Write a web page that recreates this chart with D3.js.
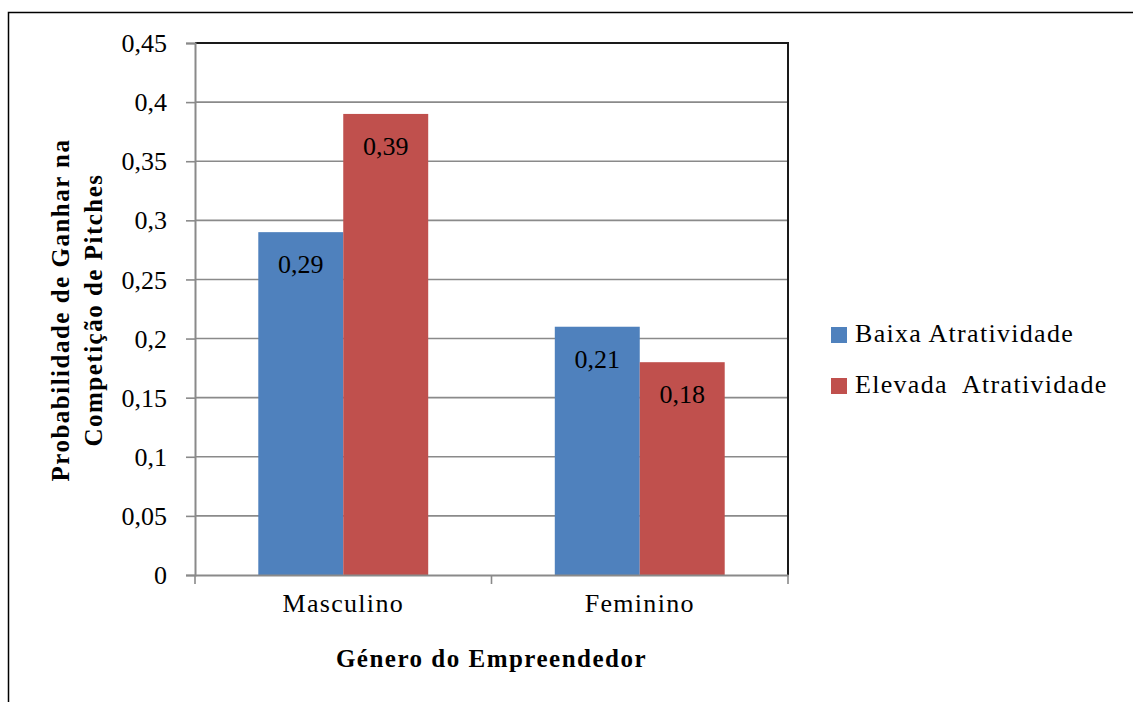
<!DOCTYPE html>
<html>
<head>
<meta charset="utf-8">
<script src="https://cdn.jsdelivr.net/npm/d3@7"></script>
<style>
  html, body { margin: 0; padding: 0; background: #fff; }
  svg { display: block; }
  text { font-family: "Liberation Serif", "Times New Roman", serif; fill: #000; }
</style>
</head>
<body>
<svg id="chart" width="1133" height="702"></svg>
<script>
// Chart data
const categories = ["Masculino", "Feminino"];
const seriesNames = ["Baixa Atratividade", "Elevada  Atratividade"];
const baixaValues = [0.29, 0.21];
const elevadaValues = [0.39, 0.18];
const yTickValues = [0, 0.05, 0.1, 0.15, 0.2, 0.25, 0.3, 0.35, 0.4, 0.45];
const yTitleLines = ["Probabilidade de Ganhar na", "Competição de Pitches"];
const xTitle = "Género do Empreendedor";

const colors = ["#4F81BD", "#C0504D"];
const series = [baixaValues, elevadaValues];
const fmt = v => String(v).replace(".", ",");

const svg = d3.select("#chart");

// Outer frame of the figure
svg.append("path")
  .attr("d", "M8.5,702 L8.5,12.5 L1133,12.5")
  .attr("fill", "none").attr("stroke", "#000").attr("stroke-width", 1.5);

const plot = { left: 195, right: 788, top: 43, bottom: 575 };

const x = d3.scaleBand().domain(categories).range([plot.left, plot.right]).padding(0);
const inner = d3.scaleBand().domain(d3.range(series.length))
  .range([0, x.bandwidth()]).paddingInner(0).paddingOuter(0.745);
const y = d3.scaleLinear().domain([0, 0.45]).range([plot.bottom, plot.top]);

// Horizontal gridlines
svg.append("g").selectAll("line")
  .data(yTickValues.filter(v => v > 0 && v < 0.45))
  .join("line")
  .attr("x1", plot.left).attr("x2", plot.right)
  .attr("y1", d => y(d)).attr("y2", d => y(d))
  .attr("stroke", "#8a8a8a").attr("stroke-width", 1.6);

// Bars
const groups = svg.append("g").selectAll("g")
  .data(categories)
  .join("g")
  .attr("transform", c => `translate(${x(c)},0)`);

groups.selectAll("rect")
  .data((c, i) => series.map((s, k) => ({ k, v: s[i] })))
  .join("rect")
  .attr("x", d => inner(d.k))
  .attr("width", inner.bandwidth())
  .attr("y", d => y(d.v))
  .attr("height", d => y(0) - y(d.v))
  .attr("fill", d => colors[d.k]);

// Value labels inside bars
groups.selectAll("text.val")
  .data((c, i) => series.map((s, k) => ({ k, v: s[i] })))
  .join("text")
  .attr("class", "val")
  .attr("x", d => inner(d.k) + inner.bandwidth() / 2)
  .attr("y", d => y(d.v) + 41)
  .attr("text-anchor", "middle")
  .style("font-size", "26px")
  .text(d => fmt(d.v));

// Plot area border (top and right)
svg.append("path")
  .attr("d", `M${plot.left},${plot.top} L${plot.right},${plot.top} L${plot.right},${plot.bottom}`)
  .attr("fill", "none").attr("stroke", "#1a1a1a").attr("stroke-width", 2);

// Y axis
const yAxis = svg.append("g")
  .attr("transform", `translate(${plot.left},0)`)
  .call(d3.axisLeft(y).tickValues(yTickValues).tickSize(9).tickPadding(19).tickFormat(fmt));
yAxis.select(".domain").attr("stroke", "#8a8a8a").attr("stroke-width", 2);
yAxis.selectAll(".tick line").attr("stroke", "#8a8a8a").attr("stroke-width", 1.6);
yAxis.selectAll(".tick text")
  .style("font-family", "'Liberation Serif', serif")
  .style("font-size", "26px").attr("fill", "#000").attr("dy", "0.33em");

// X axis
const xAxis = svg.append("g")
  .attr("transform", `translate(0,${plot.bottom})`)
  .call(d3.axisBottom(x).tickSize(0).tickPadding(37));
xAxis.select(".domain").attr("stroke", "#8a8a8a").attr("stroke-width", 2);
xAxis.selectAll(".tick text")
  .style("font-family", "'Liberation Serif', serif")
  .style("font-size", "26px").style("letter-spacing", "1.3px")
  .attr("fill", "#000").attr("dy", "0");
// category boundary tick marks
svg.append("g").selectAll("line")
  .data([...categories.map(c => x(c)), plot.right])
  .join("line")
  .attr("x1", d => d).attr("x2", d => d)
  .attr("y1", plot.bottom).attr("y2", plot.bottom + 9)
  .attr("stroke", "#8a8a8a").attr("stroke-width", 1.6);

// X axis title
svg.append("text")
  .attr("x", (plot.left + plot.right) / 2)
  .attr("y", 667)
  .attr("text-anchor", "middle")
  .style("font-size", "25px").style("font-weight", "bold").style("letter-spacing", "1.5px")
  .text(xTitle);

// Y axis title (two lines, rotated)
const yTitle = svg.append("text")
  .attr("transform", "translate(0,310) rotate(-90)")
  .attr("text-anchor", "middle")
  .style("font-size", "25px").style("font-weight", "bold").style("letter-spacing", "1.5px");
yTitle.selectAll("tspan")
  .data(yTitleLines)
  .join("tspan")
  .attr("x", 0)
  .attr("y", (d, i) => [69, 102][i])
  .text(d => d);

// Legend
const legend = svg.append("g").selectAll("g")
  .data(seriesNames)
  .join("g")
  .attr("transform", (d, i) => `translate(831,${327 + i * 51})`);
legend.append("rect")
  .attr("width", 16).attr("height", 16)
  .attr("fill", (d, i) => colors[i]);
legend.append("text")
  .attr("x", 24).attr("y", 15)
  .style("font-size", "26px").style("letter-spacing", "1.3px")
  .style("white-space", "pre")
  .attr("xml:space", "preserve")
  .text(d => d);
</script>
</body>
</html>
